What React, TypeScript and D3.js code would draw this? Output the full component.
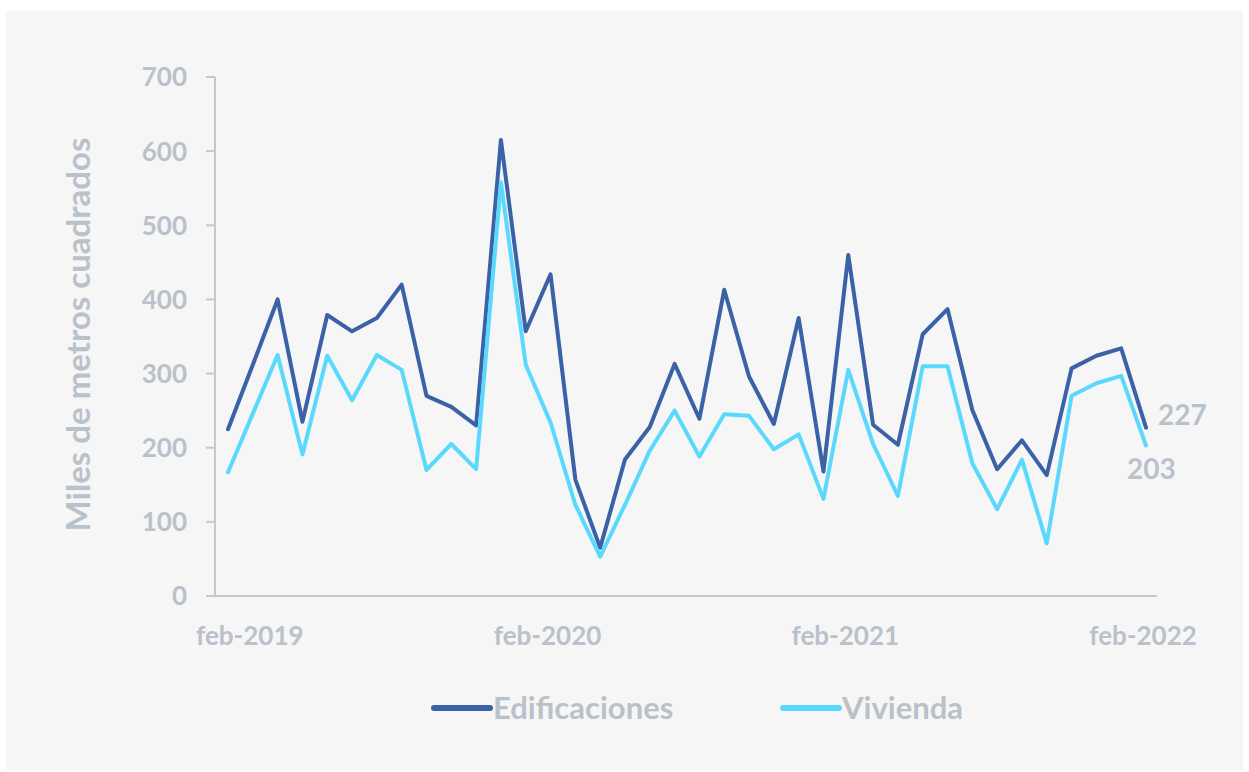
import * as d3 from 'd3'

const months = [
  'ene-2019', 'feb-2019', 'mar-2019', 'abr-2019', 'may-2019', 'jun-2019', 'jul-2019', 'ago-2019', 'sep-2019', 'oct-2019', 'nov-2019', 'dic-2019',
  'ene-2020', 'feb-2020', 'mar-2020', 'abr-2020', 'may-2020', 'jun-2020', 'jul-2020', 'ago-2020', 'sep-2020', 'oct-2020', 'nov-2020', 'dic-2020',
  'ene-2021', 'feb-2021', 'mar-2021', 'abr-2021', 'may-2021', 'jun-2021', 'jul-2021', 'ago-2021', 'sep-2021', 'oct-2021', 'nov-2021', 'dic-2021',
  'ene-2022', 'feb-2022',
]

const edificaciones = [
  225, 312, 400, 235, 379, 357, 375, 420, 270, 255, 230, 615,
  357, 434, 157, 65, 184, 228, 313, 239, 413, 296, 232, 375,
  168, 460, 231, 204, 353, 387, 251, 171, 210, 163, 307, 324,
  334, 227,
]

const vivienda = [
  167, 246, 325, 191, 324, 264, 325, 305, 170, 205, 171, 558,
  312, 234, 123, 53, 123, 196, 250, 188, 245, 243, 198, 218,
  131, 305, 205, 135, 310, 310, 179, 117, 184, 71, 270, 287,
  297, 203,
]

const yTicks = [0, 100, 200, 300, 400, 500, 600, 700]
const xTickLabels = ['feb-2019', 'feb-2020', 'feb-2021', 'feb-2022']

const series = [
  { name: 'Edificaciones', values: edificaciones, color: '#3b62a7' },
  { name: 'Vivienda', values: vivienda, color: '#5bd9fd' },
]

const W = 1249
const H = 772
const FONT = 'Lato, "Noto Sans", sans-serif'
const GREY = '#b9c1cb'

export default function App() {
  const x = d3.scalePoint<string>().domain(months).range([228, 1146])
  const y = d3.scaleLinear().domain([0, 700]).range([596, 77])

  const line = d3.line<number>()
    .x((_, i) => x(months[i]) as number)
    .y(d => y(d))

  const last = months.length - 1

  return (
    <svg width={W} height={H} style={{ position: 'absolute', left: 0, top: 0 }} fontFamily={FONT}>
      <rect x={0} y={0} width={W} height={H} fill="#ffffff" />
      <rect x={6} y={11} width={1237} height={759} fill="#f6f6f6" />

      {/* y axis */}
      <line x1={215} x2={215} y1={y(700)} y2={y(0)} stroke="#c3c9d2" strokeWidth={2} />
      {yTicks.map(t => (
        <g key={t}>
          <line x1={206} x2={215} y1={y(t)} y2={y(t)} stroke="#c3c9d2" strokeWidth={2} />
          <text x={187} y={y(t)} dy="0.36em" textAnchor="end" fontSize={26} fontWeight={700} fill={GREY}>{t}</text>
        </g>
      ))}
      <text transform={`translate(90, ${(y(0) + y(700)) / 2 - 2}) rotate(-90)`} textAnchor="middle"
        fontSize={33} fontWeight={700} fill={GREY}>Miles de metros cuadrados</text>

      {/* x axis */}
      <line x1={206} x2={1157} y1={y(0)} y2={y(0)} stroke="#c3c9d2" strokeWidth={2} />
      {xTickLabels.map(m => (
        <text key={m} x={(x(m) as number) - 3} y={645} textAnchor="middle" fontSize={26} fontWeight={700}
          fill={GREY}>{m}</text>
      ))}

      {/* lines */}
      {series.map(s => (
        <path key={s.name} d={line(s.values) || ''} fill="none" stroke={s.color} strokeWidth={4}
          strokeLinejoin="round" strokeLinecap="round" />
      ))}

      {/* end labels */}
      <text x={(x(months[last]) as number) + 12} y={y(edificaciones[last]) - 3} fontSize={28} fontWeight={700} fill={GREY}>
        {edificaciones[last]}
      </text>
      <text x={(x(months[last]) as number) - 19} y={y(vivienda[last]) + 34} fontSize={28} fontWeight={700} fill={GREY}>
        {vivienda[last]}
      </text>

      {/* legend */}
      {series.map((s, i) => {
        const lx = i === 0 ? 434 : 783
        return (
          <g key={s.name}>
            <line x1={lx} x2={lx + 56} y1={708} y2={708} stroke={s.color} strokeWidth={6} strokeLinecap="round" />
            <text x={lx + 59} y={708} dy="0.36em" fontSize={31} fontWeight={700} fill={GREY}>{s.name}</text>
          </g>
        )
      })}
    </svg>
  )
}
